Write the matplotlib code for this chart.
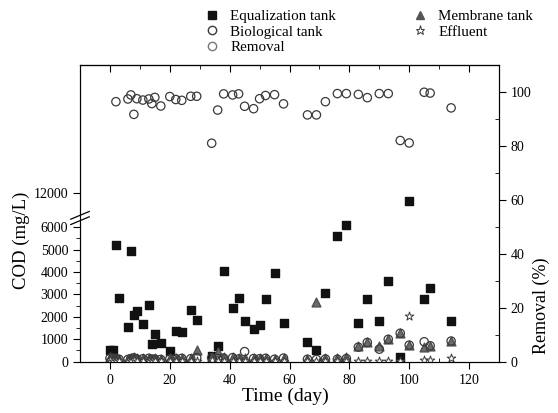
import numpy as np
import matplotlib
matplotlib.use("Agg")
import matplotlib.pyplot as plt
from matplotlib.lines import Line2D
from matplotlib.ticker import FixedLocator

plt.rcParams['font.family'] = ['Liberation Serif', 'DejaVu Serif']

# data
eq_day = [0, 1, 2, 3, 6, 7, 8, 9, 11, 13, 14, 15, 17, 20, 22, 24, 27, 29, 34, 36, 38, 41, 43, 45,
          48, 50, 52, 55, 58, 66, 69, 72, 76, 79, 83, 86, 90, 93, 97, 100, 105, 107, 114]
eq_cod = [520, 520, 5210, 2840, 1550, 4960, 2080, 2260, 1700, 2520, 780, 1240, 840, 480, 1370, 1340,
          2290, 1880, 250, 700, 4050, 2380, 2860, 1820, 1480, 1620, 2780, 3980, 1710, 890, 510, 3070,
          5630, 6100, 1710, 2780, 1800, 3590, 230, 11640, 2810, 3290, 1800]

low_day = [0, 1, 2, 3, 6, 7, 8, 9, 11, 13, 14, 15, 17, 20, 22, 24, 27, 29, 34, 36, 38, 41, 43, 45,
           48, 50, 52, 55, 58, 66, 69, 72, 76, 79, 83, 86, 90, 93, 97, 100, 105, 107, 114]
bio_cod = [150, 160, 130, 110, 100, 140, 170, 120, 130, 150, 110, 120, 100, 120, 140, 150,
           130, 180, 170, 150, 160, 180, 120, 450, 140, 130, 150, 110, 160, 110, 100, 120,
           110, 140, 650, 860, 560, 1000, 1270, 740, 890, 710, 920]
mem_cod = [200, 180, 160, 140, 120, 180, 220, 160, 170, 180, 140, 150, 130, 150, 170, 180,
           160, 500, 220, 450, 190, 210, 170, 180, 160, 150, 170, 140, 180, 140, 2650, 150,
           160, 230, 700, 880, 700, 1030, 1290, 750, 670, 710, 930]
eff_cod = [60, 50, 40, 40, 30, 50, 60, 40, 40, 50, 40, 40, 30, 30, 40, 40,
           40, 50, 60, 50, 40, 40, 40, 40, 40, 30, 40, 40, 40, 40, 40, 40,
           40, 40, 40, 50, 40, 40, 40, 2040, 70, 70, 150]

rem_day = [2, 6, 7, 8, 9, 11, 13, 14, 15, 17, 20, 22, 24, 27, 29, 34, 36, 38, 41, 43, 45, 48, 50,
           52, 55, 58, 66, 69, 72, 76, 79, 83, 86, 90, 93, 97, 100, 105, 107, 114]
removal = [96.4, 97.4, 98.9, 91.7, 97.5, 97.0, 97.4, 95.7, 98.0, 94.8, 98.3, 97.2, 96.9, 98.4,
           98.4, 81.0, 93.3, 99.3, 98.9, 99.3, 94.7, 93.8, 97.5, 98.7, 99.0, 95.6, 91.5, 91.5,
           96.4, 99.4, 99.4, 99.1, 97.9, 99.4, 99.4, 82.0, 81.1, 99.9, 99.6, 94.1]

# broken COD axis: gap between B0 and B1 squeezed out
B0, B1 = 6390, 10850
EPS = 1e-3
GAP = (B1 - B0) * (1 - EPS)


def fwd(y):
    y = np.asarray(y, dtype=float)
    return np.where(y <= B0, y, np.where(y >= B1, y - GAP, B0 + (y - B0) * EPS))


def inv(u):
    u = np.asarray(u, dtype=float)
    lim = B0 + (B1 - B0) * EPS
    return np.where(u <= B0, u, np.where(u >= lim, u + GAP, B0 + (u - B0) / EPS))


fig = plt.figure(figsize=(5.58, 4.13), dpi=100)
ax = fig.add_axes([80 / 558, 51.3 / 413, 419 / 558, 296.7 / 413])
ax.set_yscale('function', functions=(fwd, inv))
ax.set_xlim(-10, 130)
ax.set_ylim(0, 17700)

dark = '#3a3a3a'
ax.scatter(eq_day, eq_cod, marker='s', s=34, color='#111111', zorder=3)
ax.scatter(low_day, mem_cod, marker='^', s=40, facecolor='#6a6a6a', edgecolor='#505050', zorder=4)
ax.scatter(low_day, bio_cod, marker='o', s=36, facecolor='none', edgecolor=dark, linewidths=0.9, zorder=5)
ax.scatter(low_day, eff_cod, marker='*', s=42, facecolor='white', edgecolor=dark, linewidths=0.7, zorder=6)

ax.set_yticks([0, 1000, 2000, 3000, 4000, 5000, 6000, 12000])
ax.yaxis.set_minor_locator(FixedLocator(np.arange(500, 6500, 1000)))
ax.set_xticks(np.arange(0, 121, 20))
ax.xaxis.set_minor_locator(FixedLocator(np.arange(-10, 131, 10)))
ax.tick_params(axis='y', which='major', direction='out', length=5, labelsize=10)
ax.tick_params(axis='y', which='minor', direction='out', length=3)
ax.tick_params(axis='x', which='major', direction='out', length=5, labelsize=10)
ax.tick_params(axis='x', which='minor', direction='in', length=3)
ax.set_xlabel('Time (day)', fontsize=14)
ax.xaxis.set_label_coords(0.49, -0.088)
ax.set_ylabel('COD (mg/L)', fontsize=13.5)
ax.yaxis.set_label_coords(-0.12, 0.41)

# top ticks point into the plot
top = ax.secondary_xaxis('top')
top.set_xticks(np.arange(0, 121, 20))
top.xaxis.set_minor_locator(FixedLocator(np.arange(-10, 131, 10)))
top.tick_params(which='major', direction='in', length=5, labeltop=False)
top.tick_params(which='minor', direction='in', length=3)

# break marks on the left spine
yb = (361.7 - 218) / 296.7
for dy in (-0.009, 0.009):
    ax.plot([-0.022, 0.022], [yb + dy - 0.013, yb + dy + 0.013], transform=ax.transAxes,
            color='black', lw=0.9, clip_on=False, zorder=10)
ax.plot([0, 0], [yb - 0.007, yb + 0.007], transform=ax.transAxes, color='white', lw=2,
        clip_on=False, zorder=9)

ax2 = ax.twinx()
ax2.set_ylim(0, 110)
ax2.scatter(rem_day, removal, marker='o', s=36, facecolor='none', edgecolor=dark, linewidths=0.9, zorder=5)
ax2.set_yticks(np.arange(0, 101, 20))
ax2.yaxis.set_minor_locator(FixedLocator(np.arange(10, 111, 20)))
ax2.tick_params(axis='y', which='major', direction='out', length=5, labelsize=10)
ax2.tick_params(axis='y', which='minor', direction='in', length=3)
ax2.set_ylabel('Removal (%)', fontsize=13)
ax2.yaxis.set_label_coords(1.08, 0.19)

handles = [
    Line2D([], [], ls='none', marker='s', ms=5.5, color='#111111'),
    Line2D([], [], ls='none', marker='o', ms=6, mfc='none', mec=dark),
    Line2D([], [], ls='none', marker='o', ms=6, mfc='none', mec='#777777'),
    Line2D([], [], ls='none', marker='^', ms=6, color='#555555'),
    Line2D([], [], ls='none', marker='*', ms=6.5, mfc='white', mec=dark, mew=0.7),
]
labels = ['Equalization tank', 'Biological tank', 'Removal', 'Membrane tank', 'Effluent']
fig.legend(handles, labels, loc='upper left', bbox_to_anchor=(0.34, 1.01), ncol=2,
           frameon=False, fontsize=10.8, columnspacing=5.0, handletextpad=0.6,
           labelspacing=0.15, handlelength=1.2)

fig.savefig('out.png', dpi=100)
